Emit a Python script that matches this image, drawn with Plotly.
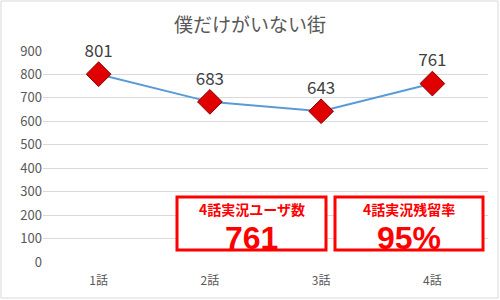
import plotly.graph_objects as go

categories = ["1話", "2話", "3話", "4話"]
users = [801, 683, 643, 761]
y_ticks = [0, 100, 200, 300, 400, 500, 600, 700, 800, 900]
box_titles = ["4話実況ユーザ数", "4話実況残留率"]
box_values = ["761", "95%"]

FONT = "Noto Sans CJK JP"
NUMFONT = "Liberation Sans"
L, R, T, B = 43, 12, 51, 38
W, H = 500, 300
pw, ph = W - L - R, H - T - B

def px(x):
    return (x - L) / pw

def py(y):
    return (H - B - y) / ph

fig = go.Figure()
fig.add_trace(go.Scatter(
    x=categories, y=users, mode="lines+markers+text",
    line=dict(color="#5B9BD5", width=2),
    marker=dict(symbol="diamond", size=19, color="#E00000",
                line=dict(color="#8B0000", width=1)),
    text=[str(v) for v in users], textposition="top center",
    textfont=dict(family=FONT, size=17, color="#404040"),
    cliponaxis=False, showlegend=False,
))

shapes = [dict(type="rect", xref="paper", yref="paper",
               x0=px(1), x1=px(498), y0=py(298), y1=py(1),
               line=dict(color="#D9D9D9", width=1))]
annotations = []
boxes = [(177, 326), (335, 483)]
for (x0, x1), t, v in zip(boxes, box_titles, box_values):
    shapes.append(dict(type="rect", xref="paper", yref="paper",
                       x0=px(x0), x1=px(x1), y0=py(250), y1=py(197),
                       line=dict(color="#FF0000", width=3),
                       fillcolor="white", layer="above"))
    cx = px((x0 + x1) / 2)
    annotations.append(dict(xref="paper", yref="paper", x=cx, y=py(208.5),
                            xanchor="center", yanchor="middle",
                            text="<b>%s</b>" % t, showarrow=False,
                            font=dict(family=FONT, size=14, color="#FF0000")))
    annotations.append(dict(xref="paper", yref="paper", x=cx, y=py(238),
                            xanchor="center", yanchor="middle",
                            text="<b>%s</b>" % v, showarrow=False,
                            font=dict(family=NUMFONT, size=32, color="#FF0000")))

fig.update_layout(
    width=W, height=H,
    margin=dict(l=L, r=R, t=T, b=B),
    paper_bgcolor="white", plot_bgcolor="white",
    title=dict(text="僕だけがいない街", x=0.5, xanchor="center",
               y=1 - 25 / H, yanchor="middle",
               font=dict(family=FONT, size=19, color="#595959")),
    xaxis=dict(type="category", range=[-0.5, 3.5], showgrid=False,
               showline=False, zeroline=False, ticks="",
               ticklabelstandoff=10,
               tickfont=dict(family=FONT, size=12, color="#595959")),
    yaxis=dict(range=[0, 900], tickvals=y_ticks, showgrid=True,
               gridcolor="#D9D9D9", gridwidth=1, zeroline=False,
               showline=False, ticks="",
               tickfont=dict(family=FONT, size=13, color="#595959")),
    shapes=shapes, annotations=annotations,
)

fig.write_html("out.html")
